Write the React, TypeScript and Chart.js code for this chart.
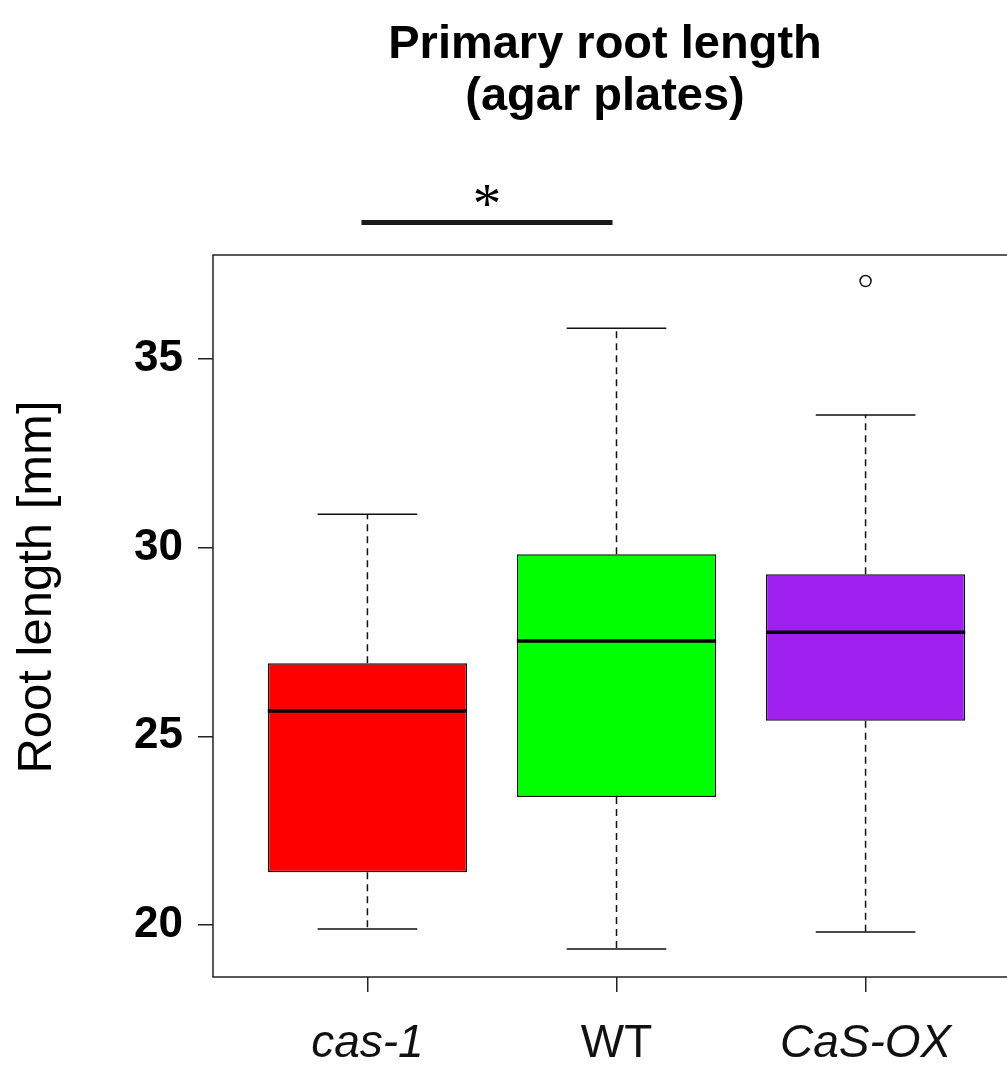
import React, { useEffect, useRef } from 'react';
import { Chart, registerables } from 'chart.js';

Chart.register(...registerables);

// ---- data ----
const categories = ['cas-1', 'WT', 'CaS-OX'];
const italicLabel = [true, false, true];
const whiskerLow = [19.89, 19.36, 19.81];
const q1 = [21.4, 23.39, 25.41];
const median = [25.67, 27.53, 27.76];
const q3 = [26.94, 29.83, 29.3];
const whiskerHigh = [30.89, 35.82, 33.52];
const outlierGroup = [3];
const outlierValue = [37.07];
const boxColors = ['#FF0000', '#00FF00', '#A020F0'];
const yTicks = [20, 25, 30, 35];
const titleLines = ['Primary root length', '(agar plates)'];
const yTitle = 'Root length [mm]';
const sigFrom = [0.976];
const sigTo = [1.984];
const sigLevel = [38.62];
const sigLabel = ['*'];

const FONT = "'Liberation Sans', Arial, Helvetica, sans-serif";

const extras = {
  id: 'boxExtras',
  beforeDatasetsDraw(chart: any) {
    const { ctx, scales } = chart;
    const x = scales.x;
    const y = scales.y;
    ctx.save();
    ctx.strokeStyle = '#111';
    ctx.lineWidth = 1.5;
    categories.forEach((_, i) => {
      const cx = x.getPixelForValue(i + 1);
      const half = x.getPixelForValue(i + 1 + 0.2) - cx;
      ctx.setLineDash([7, 5]);
      ctx.beginPath();
      ctx.moveTo(cx, y.getPixelForValue(q3[i]));
      ctx.lineTo(cx, y.getPixelForValue(whiskerHigh[i]));
      ctx.moveTo(cx, y.getPixelForValue(q1[i]));
      ctx.lineTo(cx, y.getPixelForValue(whiskerLow[i]));
      ctx.stroke();
      ctx.setLineDash([]);
      ctx.beginPath();
      const yh = y.getPixelForValue(whiskerHigh[i]);
      const yl = y.getPixelForValue(whiskerLow[i]);
      ctx.moveTo(cx - half, yh);
      ctx.lineTo(cx + half, yh);
      ctx.moveTo(cx - half, yl);
      ctx.lineTo(cx + half, yl);
      ctx.stroke();
    });
    ctx.restore();
  },
  afterDatasetsDraw(chart: any) {
    const { ctx, scales, chartArea } = chart;
    const x = scales.x;
    const y = scales.y;
    ctx.save();
    ctx.strokeStyle = '#000';
    ctx.lineWidth = 3.5;
    categories.forEach((_, i) => {
      const cx = x.getPixelForValue(i + 1);
      const half = x.getPixelForValue(i + 1 + 0.4) - cx;
      const ym = y.getPixelForValue(median[i]);
      ctx.beginPath();
      ctx.moveTo(cx - half, ym);
      ctx.lineTo(cx + half, ym);
      ctx.stroke();
    });
    // plot frame
    ctx.strokeStyle = '#222';
    ctx.lineWidth = 1.5;
    ctx.strokeRect(chartArea.left, chartArea.top, chartArea.right - chartArea.left, chartArea.bottom - chartArea.top);
    ctx.restore();
  },
  afterDraw(chart: any) {
    const { ctx, scales } = chart;
    const x = scales.x;
    const y = scales.y;
    ctx.save();
    ctx.fillStyle = '#000';
    // title
    ctx.font = `bold 47px ${FONT}`;
    ctx.textAlign = 'center';
    ctx.textBaseline = 'middle';
    ctx.fillText(titleLines[0], 605, 45);
    ctx.fillText(titleLines[1], 605, 97);
    // y title
    ctx.save();
    ctx.translate(37, 587);
    ctx.rotate(-Math.PI / 2);
    ctx.font = `49px ${FONT}`;
    ctx.fillText(yTitle, 0, 0);
    ctx.restore();
    // significance bar
    sigFrom.forEach((f, k) => {
      const yp = y.getPixelForValue(sigLevel[k]);
      ctx.strokeStyle = '#1a1a1a';
      ctx.lineWidth = 5;
      ctx.beginPath();
      ctx.moveTo(x.getPixelForValue(f), yp);
      ctx.lineTo(x.getPixelForValue(sigTo[k]), yp);
      ctx.stroke();
      ctx.font = `57px 'Liberation Serif', 'Times New Roman', serif`;
      ctx.textBaseline = 'alphabetic';
      ctx.fillText(sigLabel[k], x.getPixelForValue((f + sigTo[k]) / 2), yp);
    });
    ctx.restore();
  },
};

export default function App() {
  const ref = useRef<HTMLCanvasElement | null>(null);
  useEffect(() => {
    if (!ref.current) return;
    const chart = new Chart(ref.current, {
      type: 'bar',
      data: {
        datasets: [
          {
            type: 'bar',
            data: categories.map((_, i) => ({ x: i + 1, y: [q1[i], q3[i]] })) as any,
            backgroundColor: boxColors,
            borderColor: '#111',
            borderWidth: 1.5,
            borderSkipped: false,
            barPercentage: 0.8,
            categoryPercentage: 1.0,
          } as any,
          {
            type: 'scatter',
            data: outlierGroup.map((g, i) => ({ x: g, y: outlierValue[i] })),
            pointStyle: 'circle',
            pointRadius: 5.5,
            borderColor: '#111',
            backgroundColor: 'rgba(255,255,255,0)',
            borderWidth: 1.5,
          } as any,
        ],
      },
      options: {
        responsive: false,
        animation: false,
        devicePixelRatio: 1,
        layout: { padding: { top: 255, right: 20, bottom: 0, left: 0 } },
        plugins: { legend: { display: false }, tooltip: { enabled: false }, title: { display: false } },
        scales: {
          x: {
            type: 'linear',
            min: 0.38,
            max: 3.62,
            offset: false,
            grid: { display: true, drawOnChartArea: false, drawTicks: true, tickLength: 15, color: '#222', lineWidth: 1.5, offset: false },
            border: { display: false },
            afterBuildTicks: (scale: any) => {
              scale.ticks = categories.map((_, i) => ({ value: i + 1 }));
            },
            afterFit: (scale: any) => {
              scale.height = 98;
            },
            ticks: {
              autoSkip: false,
              maxRotation: 0,
              minRotation: 0,
              padding: 25,
              color: '#111',
              font: (ctx: any) => ({ family: FONT, size: 46, style: italicLabel[ctx.index] ? 'italic' : 'normal' }),
              callback: (_v: any, index: number) => categories[index],
            },
          },
          y: {
            type: 'linear',
            min: 18.62,
            max: 37.76,
            grid: { display: true, drawOnChartArea: false, drawTicks: true, tickLength: 15, color: '#222', lineWidth: 1.5 },
            border: { display: false },
            afterBuildTicks: (scale: any) => {
              scale.ticks = yTicks.map((v) => ({ value: v }));
            },
            afterFit: (scale: any) => {
              scale.width = 213;
            },
            ticks: {
              padding: 15,
              color: '#000',
              font: { family: FONT, size: 44, weight: 'bold' },
              callback: (v: any) => String(v),
            },
          },
        },
      } as any,
      plugins: [extras],
    });
    return () => chart.destroy();
  }, []);
  return (
    <div style={{ position: 'fixed', left: 0, top: 0, width: 1007, height: 1075, overflow: 'hidden', background: '#fff' }}>
      <canvas ref={ref} width={1040} height={1075} style={{ display: 'block', width: 1040, height: 1075 }} />
    </div>
  );
}
